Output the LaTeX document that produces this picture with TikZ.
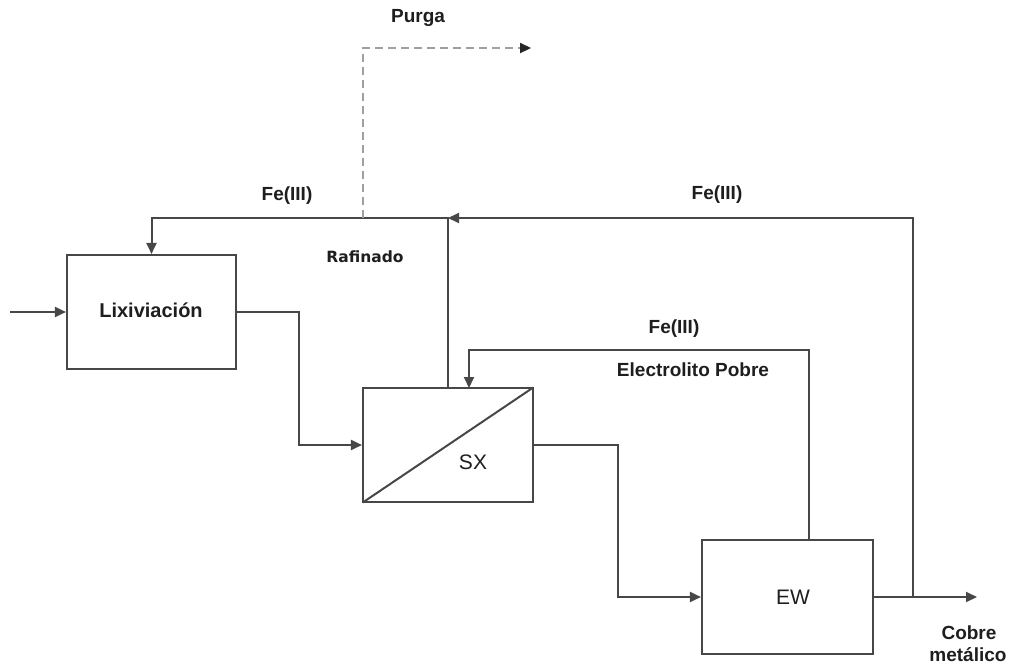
\documentclass[tikz,border=0pt]{standalone}
\usepackage{fontspec}
\setmainfont{Liberation Sans}
\newfontfamily\rafont{DejaVu Sans}
\usetikzlibrary{arrows.meta}
\definecolor{ln}{HTML}{474747}
\definecolor{tx}{HTML}{1e1e1e}
\tikzset{
  blk/.style={draw=ln, line width=2.1pt, rectangle, inner sep=0pt},
  flow/.style={draw=ln, line width=2pt},
  arr/.style={flow, -{Triangle[length=11pt,width=10pt]}},
  purge/.style={draw=gray!75, line width=2.2pt, dash pattern=on 8pt off 5pt, arrows={-{Triangle[length=11pt,width=10pt,color=black!85]}}},
  lbl/.style={text=tx, font=\fontsize{19}{22}\selectfont\bfseries, inner sep=0pt},
  slbl/.style={text=tx, font=\rafont\fontsize{15.5}{18}\selectfont\bfseries, inner sep=0pt},
  blbl/.style={text=tx, font=\fontsize{21}{24}\selectfont, inner sep=0pt}
}
\begin{document}
\begin{tikzpicture}[x=1pt,y=-1pt]
\useasboundingbox (0,0) rectangle (1013,667);
% blocks
\node[blk, minimum width=169pt, minimum height=114pt] (lix) at (151.5,312) {};
\node[blk, minimum width=170pt, minimum height=114pt] (sx) at (448,445) {};
\node[blk, minimum width=171pt, minimum height=114pt] (ew) at (787.5,597) {};
\draw[flow, shorten <=1pt, shorten >=1pt] (sx.south west) -- (sx.north east);
% labels inside blocks
\node[lbl, font=\fontsize{20}{23}\selectfont\bfseries] (tlix) at (151,310) {Lixiviación};
\node[blbl] (tsx) at (473,462) {SX};
\node[blbl] (tew) at (793,597) {EW};
% coordinates
\coordinate (in) at (10,312);
\coordinate (k1) at (299,312);
\coordinate (k2) at (618,445);
\coordinate (raf) at (448,218);
\coordinate (jn) at (913,597);
\coordinate (out) at (977,597);
\coordinate (ewtop) at (809,540);
\coordinate (sxin) at (469,388);
\coordinate (pj) at (363,218);
\coordinate (pc) at (363,48);
\coordinate (pend) at (531,48);
% connectors
\draw[arr] (in) -- (lix.west);
\draw[arr] (lix.east) -- (k1) |- (sx.west);
\draw[arr] (sx.east) -- (k2) |- (ew.west);
\draw[arr] (sx.north) -- (raf) -| (lix.north);
\draw[arr] (ew.east) -- (out);
\draw[arr] (jn) |- (raf);
\draw[arr] (ewtop) |- (sxin |- 0,350) -- (sxin);
\draw[purge] (pj) -- (pc) -- (pend);
% labels
\node[lbl] (purga) at (418,18) {Purga};
\node[lbl] (fe1) at (287,196) {Fe(III)};
\node[lbl] (fe2) at (717,195) {Fe(III)};
\node[lbl] (fe3) at (674,329) {Fe(III)};
\node[slbl] (rafl) at (365,257) {Rafinado};
\node[lbl] (elec) at (693,370) {Electrolito Pobre};
\node[lbl] (cob) at (969,633) {Cobre};
\node[lbl] (met) at (968,655) {metálico};
\end{tikzpicture}
\end{document}
